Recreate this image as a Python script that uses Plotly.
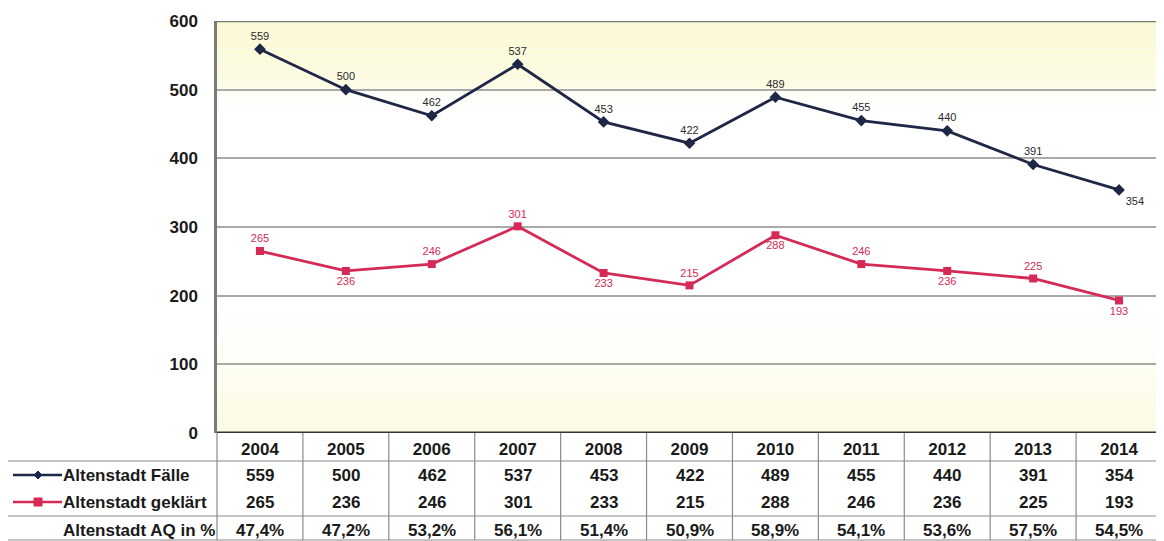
import plotly.graph_objects as go

years = ["2004", "2005", "2006", "2007", "2008", "2009", "2010", "2011", "2012", "2013", "2014"]
faelle = [559, 500, 462, 537, 453, 422, 489, 455, 440, 391, 354]
geklaert = [265, 236, 246, 301, 233, 215, 288, 246, 236, 225, 193]
aq = ["47,4%", "47,2%", "53,2%", "56,1%", "51,4%", "50,9%", "58,9%", "54,1%", "53,6%", "57,5%", "54,5%"]
row_labels = ["Altenstadt Fälle", "Altenstadt geklärt", "Altenstadt AQ in %"]
pos_faelle = ["top center"] * 10 + ["bottom right"]
pos_geklaert = ["top center", "bottom center", "top center", "top center", "bottom center",
                "top center", "bottom center", "top center", "bottom center", "top center", "bottom center"]

NAVY = "#1f2747"
RED = "#d42a55"
FONT = "Liberation Sans, Arial, sans-serif"
OFF = 8  # page body margin
W, H = 1156, 533
L, R, T, B = 209, 2, 13, 108
PW, PH = W - L - R, H - T - B


def px_x(px):
    return (px - OFF - L) / PW


def px_y(py):
    return (H - B - (py - OFF)) / PH


x = list(range(len(years)))

fig = go.Figure()
fig.add_trace(go.Scatter(
    x=x, y=faelle, mode="lines+markers+text", name=row_labels[0],
    line=dict(color=NAVY, width=2.8), marker=dict(symbol="diamond", size=9, color=NAVY),
    text=[str(v) for v in faelle], textposition=pos_faelle,
    textfont=dict(size=11, color="#2a2a2a", family=FONT), cliponaxis=False))
fig.add_trace(go.Scatter(
    x=x, y=geklaert, mode="lines+markers+text", name=row_labels[1],
    line=dict(color=RED, width=2.8), marker=dict(symbol="square", size=8, color=RED),
    text=[str(v) for v in geklaert], textposition=pos_geklaert,
    textfont=dict(size=11, color=RED, family=FONT), cliponaxis=False))

shapes = []
# background gradient (yellow at top and bottom, white in the middle)
step = 5
for y0 in range(0, 600, step):
    yc = y0 + step / 2
    if yc >= 500:
        a = 0.55 + 0.45 * (yc - 500) / 100
    elif yc >= 470:
        a = 0.15 * (yc - 470) / 30
    elif yc <= 170:
        a = 0.7 * (1 - yc / 170) ** 1.2
    else:
        a = 0.0
    if a <= 0:
        continue
    r = int(255 - a * 4)
    g = int(255 - a * 6)
    bch = int(255 - a * 45)
    shapes.append(dict(type="rect", xref="paper", yref="y", x0=0, x1=1, y0=y0, y1=y0 + step,
                       fillcolor=f"rgb({r},{g},{bch})", line=dict(width=0), layer="below"))

GRID = "#a9a9a9"
TL = "#8a8a8a"
# table lines
for py in [461, 516, 540]:
    shapes.append(dict(type="line", xref="paper", yref="paper", x0=px_x(7), x1=1,
                       y0=px_y(py), y1=px_y(py), line=dict(color=TL, width=1.2)))
shapes.append(dict(type="line", xref="paper", yref="paper", x0=px_x(7), x1=px_x(7),
                   y0=px_y(461), y1=px_y(540), line=dict(color=TL, width=1.2)))
shapes.append(dict(type="line", xref="paper", yref="paper", x0=0, x1=0,
                   y0=px_y(433), y1=px_y(540), line=dict(color=TL, width=1.2)))
for i in range(len(years)):
    shapes.append(dict(type="line", xref="x", yref="paper", x0=i + 0.5, x1=i + 0.5,
                       y0=px_y(433), y1=px_y(540), line=dict(color=TL, width=1.2)))
# top border and bottom axis
shapes.append(dict(type="line", xref="paper", yref="y", x0=0, x1=1, y0=600, y1=600,
                   line=dict(color="#7a7a7a", width=2.5)))
shapes.append(dict(type="line", xref="paper", yref="y", x0=0, x1=1, y0=0, y1=0,
                   line=dict(color="#333", width=3)))
# legend glyphs in table
for py, col, sym in [(475, NAVY, "diamond"), (502, RED, "square")]:
    shapes.append(dict(type="line", xref="paper", yref="paper", x0=px_x(13), x1=px_x(62),
                       y0=px_y(py), y1=px_y(py), line=dict(color=col, width=2.5)))
    cx, cy = 38, py
    if sym == "diamond":
        path = (f"M {px_x(cx-4)} {px_y(cy)} L {px_x(cx)} {px_y(cy-4)} "
                f"L {px_x(cx+4)} {px_y(cy)} L {px_x(cx)} {px_y(cy+4)} Z")
    else:
        path = (f"M {px_x(cx-4)} {px_y(cy-4)} L {px_x(cx+4)} {px_y(cy-4)} "
                f"L {px_x(cx+4)} {px_y(cy+4)} L {px_x(cx-4)} {px_y(cy+4)} Z")
    shapes.append(dict(type="path", xref="paper", yref="paper", path=path,
                       fillcolor=col, line=dict(color=col, width=1)))

annotations = []
TXT = dict(size=17, color="#1a1a1a", family=FONT)
for i in range(len(years)):
    for py, val in [(475, str(faelle[i])), (502, str(geklaert[i])), (530, aq[i])]:
        annotations.append(dict(xref="x", yref="paper", x=i, y=px_y(py), text=f"<b>{val}</b>",
                                showarrow=False, font=TXT, xanchor="center", yanchor="middle"))
for py, lab in zip([475, 502, 530], row_labels):
    annotations.append(dict(xref="paper", yref="paper", x=px_x(61), y=px_y(py),
                            text=f"<b>{lab}</b>",
                            showarrow=False, font=TXT, xanchor="left", yanchor="middle"))

fig.update_layout(
    width=W, height=H,
    margin=dict(l=L, r=R, t=T, b=B, pad=0),
    paper_bgcolor="white", plot_bgcolor="white",
    showlegend=False,
    font=dict(family=FONT, color="#1a1a1a"),
    xaxis=dict(range=[-0.5, 10.5], tickmode="array", tickvals=x,
               ticktext=[f"<b>{y}</b>" for y in years],
               ticks="", showgrid=False, zeroline=False, showline=False,
               tickfont=dict(size=17, color="#1a1a1a", family=FONT), ticklabelstandoff=4),
    yaxis=dict(range=[0, 600], dtick=100, ticks="", showgrid=True, gridcolor=GRID, gridwidth=1.5,
               zeroline=False, showline=True, linecolor="#7a7a7a", linewidth=2.5,
               tickmode="array", tickvals=[0, 100, 200, 300, 400, 500, 600],
               ticktext=[f"<b>{v}</b>" for v in [0, 100, 200, 300, 400, 500, 600]],
               tickfont=dict(size=17, color="#1a1a1a", family=FONT), ticklabelstandoff=13),
    shapes=shapes, annotations=annotations,
)

fig.write_html("out.html")
